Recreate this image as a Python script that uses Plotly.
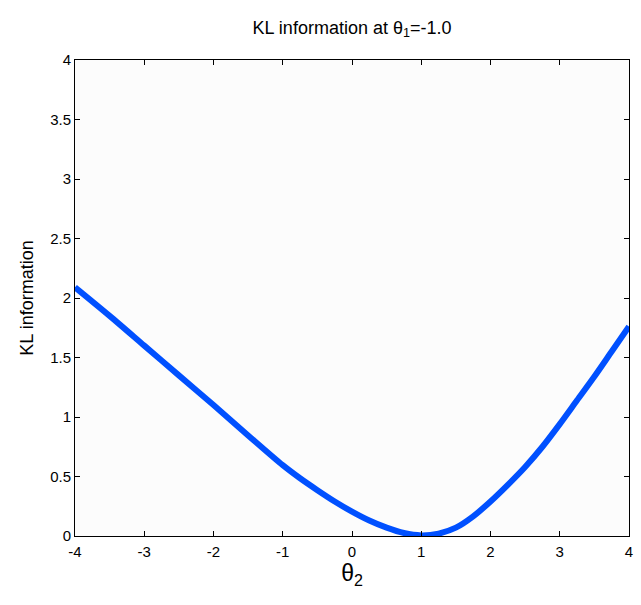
import plotly.graph_objects as go

theta2 = [-4.0, -3.5, -3.0, -2.5, -2.0, -1.5, -1.0, -0.75, -0.5, -0.25, 0.0, 0.25, 0.5, 0.75, 1.0,
          1.25, 1.5, 1.75, 2.0, 2.25, 2.5, 2.75, 3.0, 3.25, 3.5, 3.75, 4.0]
kl_info = [2.09, 1.85, 1.60, 1.35, 1.10, 0.845, 0.595, 0.485, 0.385, 0.29, 0.205, 0.13, 0.07, 0.025, 0.005,
           0.02, 0.07, 0.165, 0.29, 0.43, 0.58, 0.75, 0.94, 1.14, 1.34, 1.55, 1.76]

x_ticks = [-4, -3, -2, -1, 0, 1, 2, 3, 4]
x_tick_text = ["-4", "-3", "-2", "-1", "0", "1", "2", "3", "4"]
y_ticks = [0, 0.5, 1, 1.5, 2, 2.5, 3, 3.5, 4]
y_tick_text = ["0", "0.5", "1", "1.5", "2", "2.5", "3", "3.5", "4"]

FONT = "Liberation Sans, Arial"

fig = go.Figure()
fig.add_trace(go.Scatter(
    x=theta2, y=kl_info, mode="lines",
    line=dict(color="#0050FF", width=6, shape="spline", smoothing=0.8),
    showlegend=False,
))

axis_common = dict(
    showline=True, linecolor="black", linewidth=1, mirror="ticks",
    ticks="inside", ticklen=5, tickcolor="black", tickwidth=1,
    showgrid=False, zeroline=False,
    tickfont=dict(family=FONT, size=15, color="black"),
)

fig.update_layout(
    width=641, height=605,
    margin=dict(l=75, r=8, t=60, b=69),
    paper_bgcolor="white", plot_bgcolor="#fcfcfc",
    title=dict(text="KL information at θ<sub>1</sub>=-1.0", x=0.5, xref="paper",
               y=0.955, yref="container", xanchor="center", yanchor="middle",
               font=dict(family=FONT, size=18, color="black")),
    xaxis=dict(range=[-4, 4], tickvals=x_ticks, ticktext=x_tick_text, ticklabelstandoff=2,
               title=dict(text="θ<sub>2</sub>", standoff=5,
                          font=dict(family=FONT, size=23, color="black")),
               **axis_common),
    yaxis=dict(range=[0, 4], tickvals=y_ticks, ticktext=y_tick_text,
               title=dict(text="KL information", standoff=11,
                          font=dict(family=FONT, size=18, color="black")),
               **axis_common),
)

fig.write_html("out.html")
